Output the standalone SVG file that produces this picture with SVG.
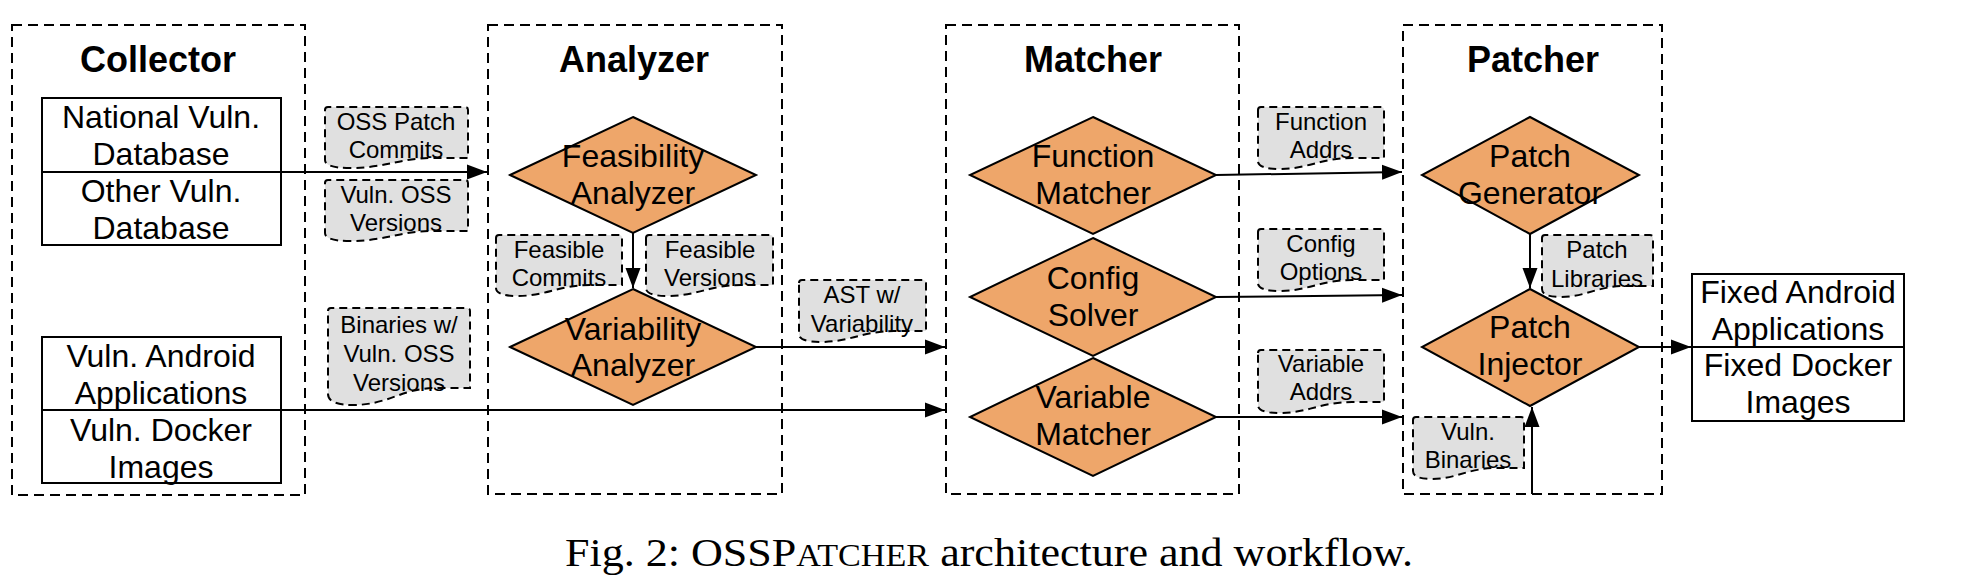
<svg xmlns="http://www.w3.org/2000/svg" width="1982" height="588" viewBox="0 0 1982 588">
<style>
.stage{fill:none;stroke:#000;stroke-width:2;stroke-dasharray:10 6}
.box{fill:#fff;stroke:#000;stroke-width:2}
.dia{fill:#eea66a;stroke:#000;stroke-width:2}
.lbl{fill:#e0e0e0;stroke:#000;stroke-width:2;stroke-dasharray:8 5}
.title{font-family:"Liberation Sans",Arial,sans-serif;font-weight:bold;font-size:36px;text-anchor:middle}
.t{font-family:"Liberation Sans",Arial,sans-serif;font-size:32px;text-anchor:middle}
.s{font-family:"Liberation Sans",Arial,sans-serif;font-size:24px;text-anchor:middle}
.cap{font-family:"Liberation Serif","Times New Roman",serif;font-size:40px}
.edge{fill:none;stroke:#000;stroke-width:2;marker-end:url(#arr)}
</style>
<defs>
<marker id="arr" markerUnits="userSpaceOnUse" markerWidth="20" markerHeight="16" refX="20" refY="8" orient="auto">
<path d="M0,0.5 L20,8 L0,15.5 z" fill="#000"/>
</marker>
</defs>
<rect width="1982" height="588" fill="#fff"/>

<g id="collector">
<rect class="stage" x="12" y="25" width="293" height="470"/>
<text class="title" x="158" y="72">Collector</text>
</g>
<g id="analyzer">
<rect class="stage" x="488" y="25" width="294" height="469"/>
<text class="title" x="634" y="72">Analyzer</text>
</g>
<g id="matcher">
<rect class="stage" x="946" y="25" width="293" height="469"/>
<text class="title" x="1093" y="72">Matcher</text>
</g>
<g id="patcher">
<rect class="stage" x="1403" y="25" width="259" height="469"/>
<text class="title" x="1533" y="72">Patcher</text>
</g>

<g id="vuln-db">
<rect class="box" x="42" y="98" width="239" height="147"/>
<line x1="42" y1="172" x2="281" y2="172" stroke="#000" stroke-width="2"/>
<text class="t" x="161" y="128">National Vuln.</text>
<text class="t" x="161" y="165">Database</text>
<text class="t" x="161" y="202">Other Vuln.</text>
<text class="t" x="161" y="239">Database</text>
</g>
<g id="vuln-apps">
<rect class="box" x="42" y="337" width="239" height="146"/>
<line x1="42" y1="410" x2="281" y2="410" stroke="#000" stroke-width="2"/>
<text class="t" x="161" y="367">Vuln. Android</text>
<text class="t" x="161" y="404">Applications</text>
<text class="t" x="161" y="441">Vuln. Docker</text>
<text class="t" x="161" y="478">Images</text>
</g>
<g id="fixed-apps">
<rect class="box" x="1692" y="274" width="212" height="147"/>
<line x1="1692" y1="347" x2="1904" y2="347" stroke="#000" stroke-width="2"/>
<text class="t" x="1798" y="303">Fixed Android</text>
<text class="t" x="1798" y="340">Applications</text>
<text class="t" x="1798" y="376">Fixed Docker</text>
<text class="t" x="1798" y="413">Images</text>
</g>

<g id="feasibility-analyzer">
<polygon class="dia" points="633,117 756,175 633,233 510,175"/>
<text class="t" x="633" y="167">Feasibility</text>
<text class="t" x="633" y="204">Analyzer</text>
</g>
<g id="variability-analyzer">
<polygon class="dia" points="633,289 756,347 633,405 510,347"/>
<text class="t" x="633" y="340">Variability</text>
<text class="t" x="633" y="376">Analyzer</text>
</g>
<g id="function-matcher">
<polygon class="dia" points="1093,117 1216,175 1093,234 970,175"/>
<text class="t" x="1093" y="167">Function</text>
<text class="t" x="1093" y="204">Matcher</text>
</g>
<g id="config-solver">
<polygon class="dia" points="1093,238 1216,297 1093,356 970,297"/>
<text class="t" x="1093" y="289">Config</text>
<text class="t" x="1093" y="326">Solver</text>
</g>
<g id="variable-matcher">
<polygon class="dia" points="1093,358 1216,417 1093,476 970,417"/>
<text class="t" x="1093" y="408">Variable</text>
<text class="t" x="1093" y="445">Matcher</text>
</g>
<g id="patch-generator">
<polygon class="dia" points="1530,117 1639,175 1530,234 1422,175"/>
<text class="t" x="1530" y="167">Patch</text>
<text class="t" x="1530" y="204">Generator</text>
</g>
<g id="patch-injector">
<polygon class="dia" points="1530,289 1639,347 1530,406 1422,347"/>
<text class="t" x="1530" y="338">Patch</text>
<text class="t" x="1530" y="375">Injector</text>
</g>

<g id="connectors">
<line class="edge" x1="281" y1="172" x2="487" y2="172"/>
<line class="edge" x1="633" y1="233" x2="633" y2="288"/>
<line class="edge" x1="756" y1="347" x2="945" y2="347"/>
<line class="edge" x1="281" y1="410" x2="945" y2="410"/>
<line class="edge" x1="1216" y1="175" x2="1402" y2="172"/>
<line class="edge" x1="1216" y1="297" x2="1402" y2="295"/>
<line class="edge" x1="1216" y1="417" x2="1402" y2="417"/>
<line class="edge" x1="1530" y1="234" x2="1530" y2="288"/>
<line class="edge" x1="1532" y1="494" x2="1532" y2="407"/>
<line class="edge" x1="1639" y1="347" x2="1691" y2="347"/>
</g>

<g id="lbl-oss-patch-commits">
<path class="lbl" d="M325,110 Q325,107 328,107 H465 Q468,107 468,110 V158 H432 C400,158 385,168 350,168 Q325,168 325,160 Z"/>
<text class="s" x="396" y="130">OSS Patch</text>
<text class="s" x="396" y="158">Commits</text>
</g>
<g id="lbl-vuln-oss-versions">
<path class="lbl" d="M325,183 Q325,180 328,180 H465 Q468,180 468,183 V231 H432 C400,231 385,241 350,241 Q325,241 325,233 Z"/>
<text class="s" x="396" y="203">Vuln. OSS</text>
<text class="s" x="396" y="231">Versions</text>
</g>
<g id="lbl-binaries">
<path class="lbl" d="M328,311 Q328,308 331,308 H467 Q470,308 470,311 V388 H435 C403,388 388,405 353,405 Q328,405 328,394 Z"/>
<text class="s" x="399" y="333">Binaries w/</text>
<text class="s" x="399" y="362">Vuln. OSS</text>
<text class="s" x="399" y="391">Versions</text>
</g>
<g id="lbl-feasible-commits">
<path class="lbl" d="M496,238 Q496,235 499,235 H619 Q622,235 622,238 V285 H590 C560,285 545,296 518,296 Q496,296 496,288 Z"/>
<text class="s" x="559" y="258">Feasible</text>
<text class="s" x="559" y="286">Commits</text>
</g>
<g id="lbl-feasible-versions">
<path class="lbl" d="M646,238 Q646,235 649,235 H770 Q773,235 773,238 V285 H741 C711,285 696,296 668,296 Q646,296 646,288 Z"/>
<text class="s" x="710" y="258">Feasible</text>
<text class="s" x="710" y="286">Versions</text>
</g>
<g id="lbl-ast">
<path class="lbl" d="M799,283 Q799,280 802,280 H923 Q926,280 926,283 V331 H894 C864,331 849,342 821,342 Q799,342 799,334 Z"/>
<text class="s" x="862" y="303">AST w/</text>
<text class="s" x="862" y="332">Variability</text>
</g>
<g id="lbl-function-addrs">
<path class="lbl" d="M1258,110 Q1258,107 1261,107 H1381 Q1384,107 1384,110 V158 H1352 C1322,158 1307,169 1280,169 Q1258,169 1258,161 Z"/>
<text class="s" x="1321" y="130">Function</text>
<text class="s" x="1321" y="158">Addrs</text>
</g>
<g id="lbl-config-options">
<path class="lbl" d="M1258,232 Q1258,229 1261,229 H1381 Q1384,229 1384,232 V280 H1352 C1322,280 1307,291 1280,291 Q1258,291 1258,283 Z"/>
<text class="s" x="1321" y="252">Config</text>
<text class="s" x="1321" y="280">Options</text>
</g>
<g id="lbl-variable-addrs">
<path class="lbl" d="M1258,353 Q1258,350 1261,350 H1381 Q1384,350 1384,353 V402 H1352 C1322,402 1307,413 1280,413 Q1258,413 1258,405 Z"/>
<text class="s" x="1321" y="372">Variable</text>
<text class="s" x="1321" y="400">Addrs</text>
</g>
<g id="lbl-patch-libraries">
<path class="lbl" d="M1542,238 Q1542,235 1545,235 H1650 Q1653,235 1653,238 V286 H1625 C1598,286 1585,297 1561,297 Q1542,297 1542,289 Z"/>
<text class="s" x="1597" y="258">Patch</text>
<text class="s" x="1597" y="287">Libraries</text>
</g>
<g id="lbl-vuln-binaries">
<path class="lbl" d="M1413,420 Q1413,417 1416,417 H1521 Q1524,417 1524,420 V468 H1496 C1469,468 1456,479 1432,479 Q1413,479 1413,471 Z"/>
<text class="s" x="1468" y="440">Vuln.</text>
<text class="s" x="1468" y="468">Binaries</text>
</g>

<text class="cap" x="565" y="566" textLength="848" lengthAdjust="spacingAndGlyphs">Fig. 2: OSSP<tspan font-size="31">ATCHER</tspan> architecture and workflow.</text>
</svg>
